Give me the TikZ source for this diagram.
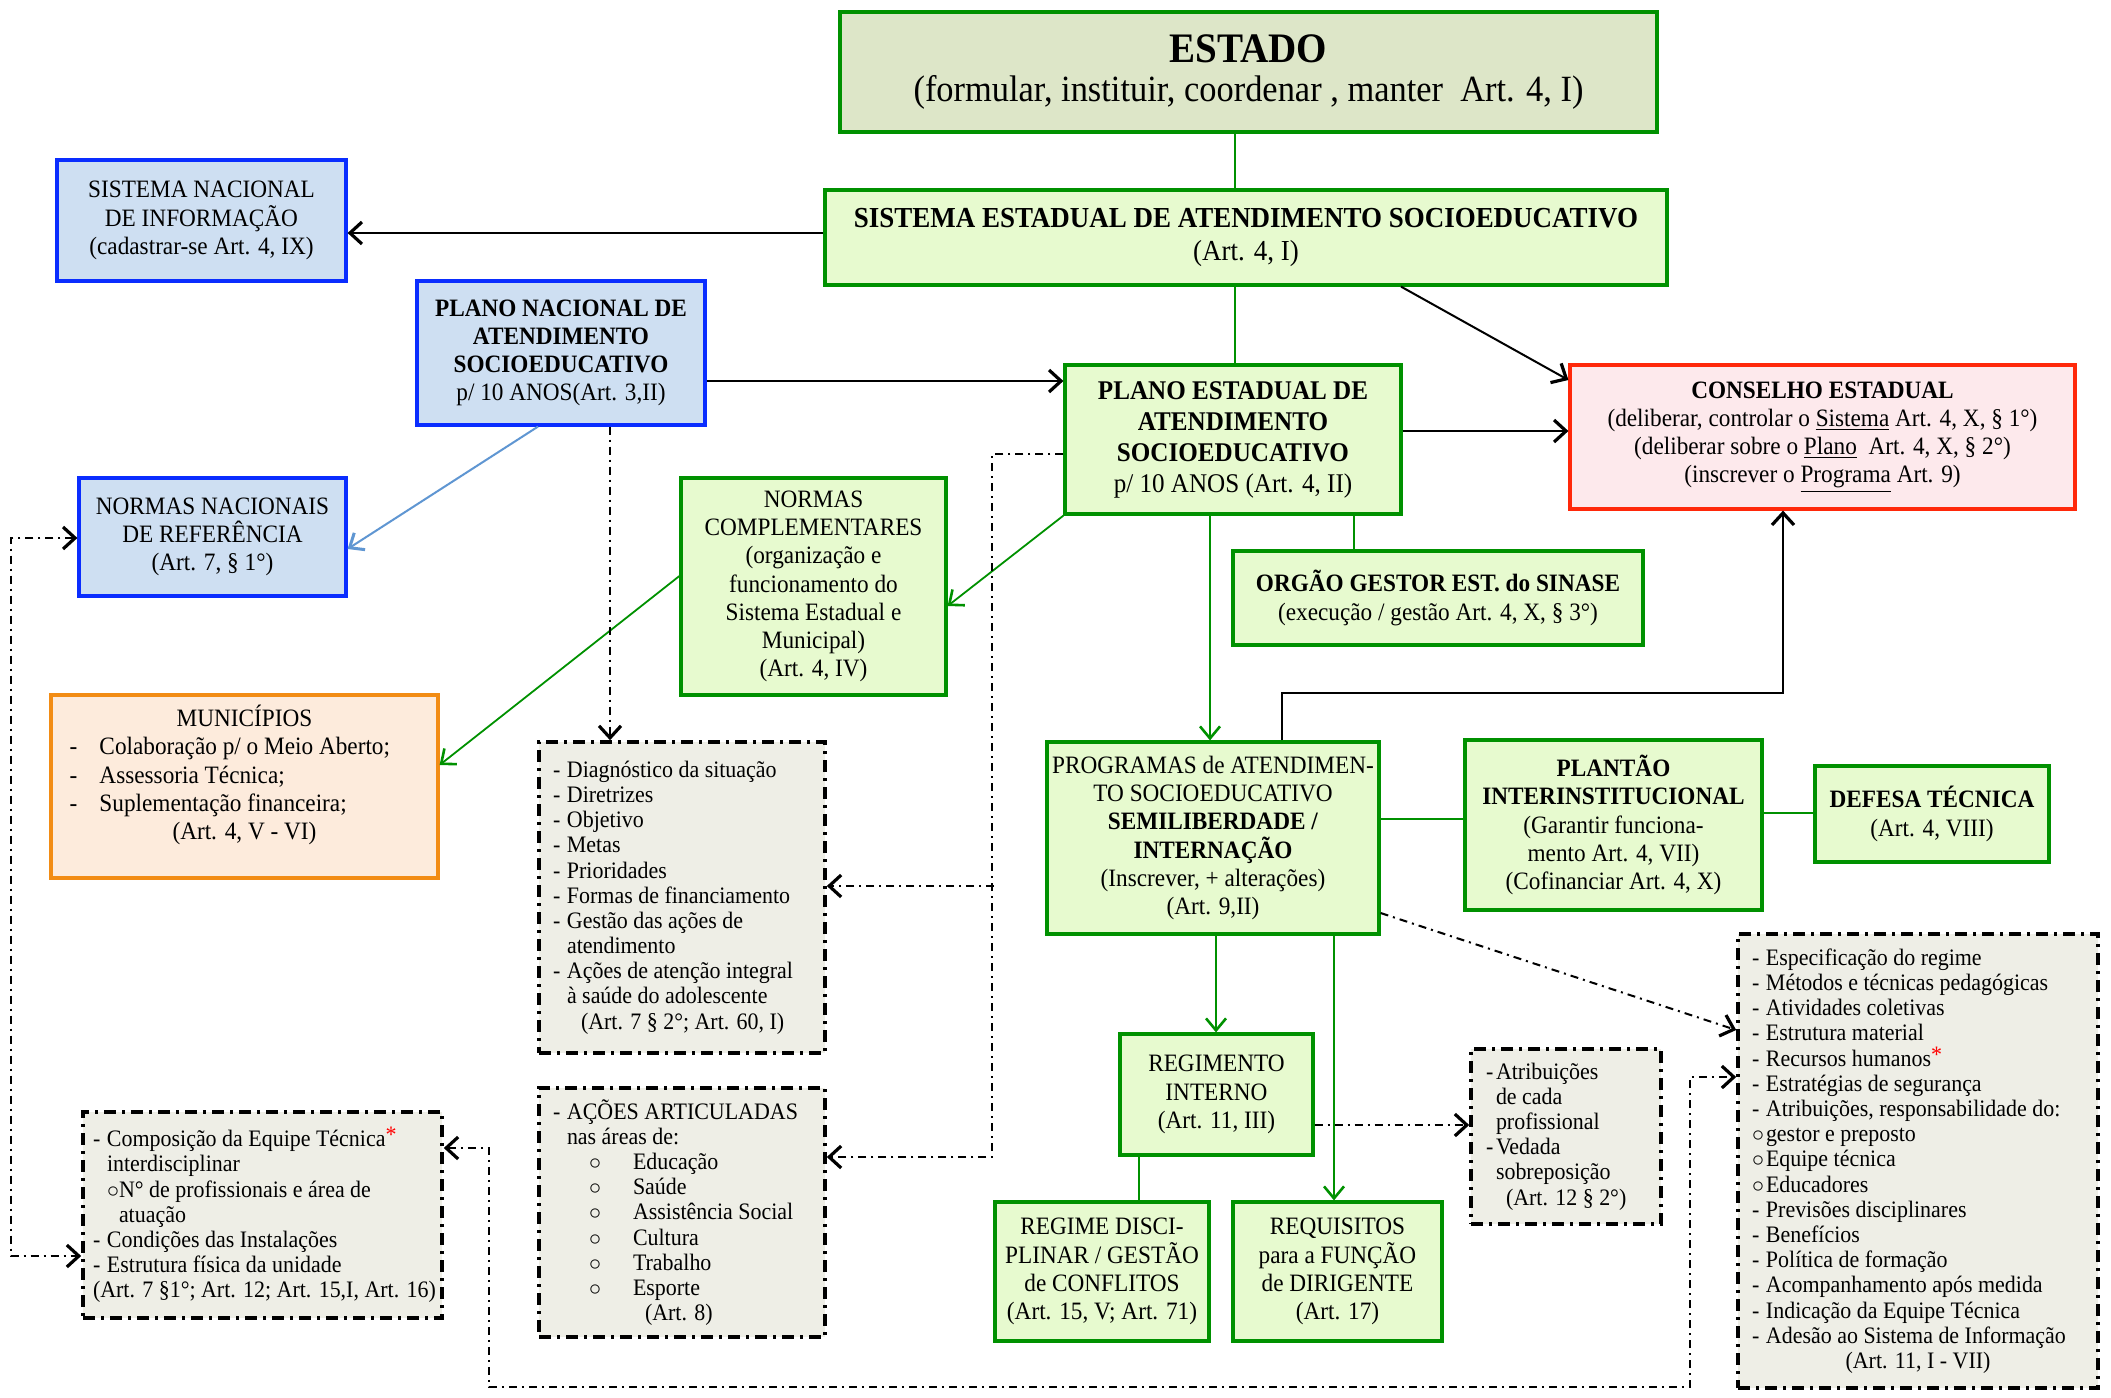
\documentclass[tikz,border=0pt]{standalone}
\usepackage{fontspec}
\setmainfont{Liberation Serif}[FakeStretch=0.93]
\usetikzlibrary{arrows.meta,shadows}
\definecolor{cGreen}{RGB}{0,145,0}
\definecolor{cGfill}{RGB}{231,250,207}
\definecolor{cEfill}{RGB}{221,230,200}
\definecolor{cBlue}{RGB}{10,45,255}
\definecolor{cBfill}{RGB}{206,223,242}
\definecolor{cRed}{RGB}{255,40,10}
\definecolor{cRfill}{RGB}{253,233,236}
\definecolor{cOrange}{RGB}{242,140,20}
\definecolor{cOfill}{RGB}{253,235,220}
\definecolor{cDfill}{RGB}{238,238,230}
\definecolor{cLblue}{RGB}{95,150,210}
\newcommand\fmain{\fontsize{12.5}{14.1}\selectfont}
\newcommand\flist{\fontsize{11.8}{12.6}\selectfont}
\newcommand\lidash{\makebox[7pt][l]{-}}
\newcommand\liind{\hspace*{7pt}}
\newcommand\redstar{\textcolor{red}{\raisebox{2pt}{*}}}
\newcommand\ctrline[1]{\makebox[\hsize][c]{#1}}
\tikzset{
 boxbase/.style={rectangle, line width=1.6pt, align=center, inner sep=2pt, font=\fmain,
   drop shadow={shadow xshift=1.2pt, shadow yshift=-1.2pt, opacity=0.25}},
 gbox/.style={boxbase, draw=cGreen, fill=cGfill},
 ebox/.style={boxbase, draw=cGreen, fill=cEfill},
 bbox/.style={boxbase, draw=cBlue, fill=cBfill},
 rbox/.style={boxbase, draw=cRed, fill=cRfill},
 obox/.style={boxbase, draw=cOrange, fill=cOfill},
 dbox/.style={rectangle, draw=black, fill=cDfill, line width=1.8pt,
   dash pattern=on 6pt off 3pt on 1.5pt off 3pt, align=flush left, inner xsep=7pt, inner ysep=2pt, font=\flist},
 barb/.style={-{Straight Barb[length=6pt,width=11pt,line width=1.6pt]}},
 barrow/.style={line width=1pt, draw=black, barb},
 garrow/.style={line width=0.9pt, draw=cGreen, -{Straight Barb[length=6pt,width=10pt,line width=1.3pt]}},
 gconn/.style={line width=0.9pt, draw=cGreen},
 ddpat/.style={line width=1pt, dash pattern=on 4pt off 2.5pt on 1pt off 2.5pt},
 dd/.style={ddpat, barb},
 ddboth/.style={ddpat, {Straight Barb[length=6pt,width=11pt,line width=1.6pt]}-{Straight Barb[length=6pt,width=11pt,line width=1.6pt]}},
}
\begin{document}
\begin{tikzpicture}[x=0.5pt,y=-0.5pt]
\fill[white] (0,0) rectangle (2111,1398);
\useasboundingbox (0,0) rectangle (2111,1398);

% boxes
\node[ebox, minimum width=408.5pt, minimum height=60pt, font=\fontsize{18.5}{19.5}\selectfont] (estado) at (1248.5,72)
 {{\fontsize{21}{22}\selectfont\bfseries ESTADO}\\(formular, instituir, coordenar , manter~~Art. 4, I)};

\node[gbox, minimum width=421pt, minimum height=47.5pt, font=\fontsize{14.5}{16.8}\selectfont] (sistema) at (1246,237.5)
 {\textbf{SISTEMA ESTADUAL DE ATENDIMENTO SOCIOEDUCATIVO}\\(Art. 4, I)};

\node[bbox, minimum width=144.5pt, minimum height=60.5pt] (sni) at (201.5,220.5)
 {SISTEMA NACIONAL\\DE INFORMAÇÃO\\(cadastrar-se Art. 4, IX)};

\node[bbox, minimum width=144pt, minimum height=72pt] (pnac) at (561,353)
 {\textbf{PLANO NACIONAL DE}\\\textbf{ATENDIMENTO}\\\textbf{SOCIOEDUCATIVO}\\p/ 10 ANOS(Art. 3,II)};

\node[gbox, minimum width=168pt, minimum height=74.5pt, font=\fontsize{13.5}{15.5}\selectfont] (pest) at (1233,439.5)
 {\textbf{PLANO ESTADUAL DE}\\\textbf{ATENDIMENTO}\\\textbf{SOCIOEDUCATIVO}\\p/ 10 ANOS (Art. 4, II)};

\node[rbox, minimum width=252.5pt, minimum height=72pt] (conselho) at (1822.5,437)
 {\textbf{CONSELHO ESTADUAL}\\(deliberar, controlar o \underline{Sistema} Art. 4, X, § 1°)\\(deliberar sobre o \underline{Plano}~~Art. 4, X, § 2°)\\(inscrever o \underline{Programa} Art. 9)};

\node[gbox, minimum width=205pt, minimum height=47pt] (orgao) at (1438,598)
 {\textbf{ORGÃO GESTOR EST. do SINASE}\\(execução / gestão Art. 4, X, § 3°)};

\node[bbox, minimum width=133.5pt, minimum height=59pt] (nnac) at (212.5,537)
 {NORMAS NACIONAIS\\DE REFERÊNCIA\\(Art. 7, § 1°)};

\node[gbox, minimum width=132.5pt, minimum height=108.5pt] (ncomp) at (813.5,586.5)
 {NORMAS\\COMPLEMENTARES\\(organização e\\funcionamento do\\Sistema Estadual e\\Municipal)\\(Art. 4, IV)};

\node[obox, minimum width=193.5pt, minimum height=91.5pt, align=flush left, text width=175pt] (munic) at (244.5,786.5)
 {\ctrline{MUNICÍPIOS}\\
  \makebox[15pt][l]{-}Colaboração p/ o Meio Aberto;\\
  \makebox[15pt][l]{-}Assessoria Técnica;\\
  \makebox[15pt][l]{-}Suplementação financeira;\\
  \ctrline{(Art. 4, V - VI)}\\\mbox{}};

\node[dbox, minimum width=143pt, minimum height=155.5pt, text width=129pt] (diag) at (682,897.5)
 {\lidash Diagnóstico da situação\\\lidash Diretrizes\\\lidash Objetivo\\\lidash Metas\\\lidash Prioridades\\
  \lidash Formas de financiamento\\\lidash Gestão das ações de\\\liind atendimento\\
  \lidash Ações de atenção integral\\\liind à saúde do adolescente\\\hspace*{14pt}(Art. 7 § 2°; Art. 60, I)};

\node[dbox, minimum width=143pt, minimum height=124.5pt, text width=129pt] (acoes) at (682,1212.5)
 {\lidash AÇÕES ARTICULADAS\\\liind nas áreas de:\\
  \hspace*{18pt}\makebox[22pt][l]{$\circ$}Educação\\
  \hspace*{18pt}\makebox[22pt][l]{$\circ$}Saúde\\
  \hspace*{18pt}\makebox[22pt][l]{$\circ$}Assistência Social\\
  \hspace*{18pt}\makebox[22pt][l]{$\circ$}Cultura\\
  \hspace*{18pt}\makebox[22pt][l]{$\circ$}Trabalho\\
  \hspace*{18pt}\makebox[22pt][l]{$\circ$}Esporte\\
  \hspace*{46pt}(Art. 8)};

\node[dbox, minimum width=179.5pt, minimum height=103pt, inner xsep=5pt, text width=169.5pt] (compos) at (262.5,1215)
 {\lidash Composição da Equipe Técnica\redstar\\\liind interdisciplinar\\
  \liind\makebox[6pt][l]{$\circ$}N° de profissionais e área de\\\hspace*{13pt}atuação\\
  \lidash Condições das Instalações\\\lidash Estrutura física da unidade\\
  \mbox{(Art. 7 §1°; Art. 12; Art. 15,I, Art. 16)}};

\node[gbox, minimum width=166pt, minimum height=96pt] (prog) at (1213,838)
 {PROGRAMAS de ATENDIMEN-\\TO SOCIOEDUCATIVO\\\textbf{SEMILIBERDADE /}\\\textbf{INTERNAÇÃO}\\(Inscrever, + alterações)\\(Art. 9,II)};

\node[gbox, minimum width=148.5pt, minimum height=85pt] (plantao) at (1613.5,825)
 {\textbf{PLANTÃO}\\\textbf{INTERINSTITUCIONAL}\\(Garantir funciona-\\mento Art. 4, VII)\\(Cofinanciar Art. 4, X)};

\node[gbox, minimum width=117pt, minimum height=48pt] (defesa) at (1932,814)
 {\textbf{DEFESA TÉCNICA}\\(Art. 4, VIII)};

\node[gbox, minimum width=96.5pt, minimum height=60.5pt] (regimento) at (1216.5,1094.5)
 {REGIMENTO\\INTERNO\\(Art. 11, III)};

\node[gbox, minimum width=107pt, minimum height=69.5pt] (regime) at (1102,1271.5)
 {REGIME DISCI-\\PLINAR / GESTÃO\\de CONFLITOS\\(Art. 15, V; Art. 71)};

\node[gbox, minimum width=104.5pt, minimum height=69.5pt] (requisitos) at (1337.5,1271.5)
 {REQUISITOS\\para a FUNÇÃO\\de DIRIGENTE\\(Art. 17)};

\node[dbox, minimum width=95pt, minimum height=87.5pt, text width=80pt] (atrib) at (1566,1136.5)
 {\makebox[5pt][l]{-}Atribuições\\\hspace*{5pt}de cada\\\hspace*{5pt}profissional\\\makebox[5pt][l]{-}Vedada\\\hspace*{5pt}sobreposição\\\hspace*{10pt}(Art. 12 § 2°)};

\node[dbox, minimum width=180pt, minimum height=227pt, text width=166pt] (espec) at (1918,1161)
 {\lidash Especificação do regime\\\lidash Métodos e técnicas pedagógicas\\\lidash Atividades coletivas\\
  \lidash Estrutura material\\\lidash Recursos humanos\redstar\\\lidash Estratégias de segurança\\
  \lidash Atribuições, responsabilidade do:\\
  \makebox[7pt][l]{$\circ$}gestor e preposto\\\makebox[7pt][l]{$\circ$}Equipe técnica\\\makebox[7pt][l]{$\circ$}Educadores\\
  \lidash Previsões disciplinares\\\lidash Benefícios\\\lidash Política de formação\\
  \lidash Acompanhamento após medida\\\lidash Indicação da Equipe Técnica\\
  \lidash Adesão ao Sistema de Informação\\\ctrline{(Art. 11, I - VII)}};

% connectors
\draw[gconn] (estado.south -| 1235,0) -- (sistema.north -| 1235,0);
\draw[gconn] (sistema.south -| 1235,0) -- (pest.north -| 1235,0);
\draw[barrow] (sistema.west |- 0,233) -- (sni.east |- 0,233);
\draw[barrow] (pnac.east |- 0,381) -- (pest.west |- 0,381);
\draw[barrow] (sistema.south -| 1401,0) -- (conselho.west |- 0,380);
\draw[barrow] (pest.east |- 0,431) -- (conselho.west |- 0,431);
\draw[barrow] (prog.north -| 1282,0) -- ++(0,-47) -| (conselho.south -| 1783,0);
\draw[gconn] (pest.south -| 1354,0) -- (orgao.north -| 1354,0);
\draw[line width=1pt, draw=cLblue, -{Straight Barb[length=6pt,width=10pt,line width=1.5pt]}] (pnac.south -| 538,0) -- (nnac.east |- 0,549);
\draw[garrow] (pest.south west) -- (ncomp.east |- 0,606);
\draw[garrow] (ncomp.west |- 0,576) -- (munic.east |- 0,765);
\draw[dd] (pnac.south -| 610,0) -- (diag.north -| 610,0);
\draw[dd] (pest.west |- 0,454) -- ++(-71,0) |- (acoes.east |- 0,1157);
\coordinate (br) at (994,886);
\draw[dd] (br) -- (diag.east |- br);
\draw[garrow] (pest.south -| 1210,0) -- (prog.north -| 1210,0);
\draw[gconn] (prog.east |- 0,819) -- (plantao.west |- 0,819);
\draw[gconn] (plantao.east |- 0,813) -- (defesa.west |- 0,813);
\draw[garrow] (prog.south -| 1216,0) -- (regimento.north -| 1216,0);
\draw[gconn] (regimento.south -| 1139,0) -- (regime.north -| 1139,0);
\draw[garrow] (prog.south -| 1334,0) -- (requisitos.north -| 1334,0);
\draw[dd] (regimento.east |- 0,1125) -- (atrib.west |- 0,1125);
\draw[dd] (prog.east |- 0,913) -- (espec.west |- 0,1030);
\draw[ddboth] (compos.east |- 0,1148) -| (489,1387) -| (1690,1077) -- (espec.west |- 0,1077);
\draw[ddboth] (nnac.west |- 0,538) -| (11,1256) -- (compos.west |- 0,1256);
\end{tikzpicture}
\end{document}
